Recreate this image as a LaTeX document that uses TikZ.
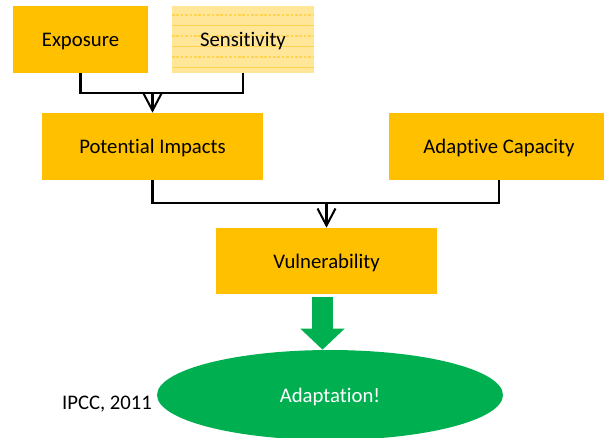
\documentclass[tikz,border=0pt]{standalone}
\usepackage{fontspec}
\setmainfont{Carlito}[Ligatures=NoCommon]
\usetikzlibrary{arrows.meta,shapes.geometric}
\definecolor{boxorange}{HTML}{FFC000}
\definecolor{boxlight}{HTML}{FFE699}
\definecolor{boxline}{HTML}{FFD34F}
\definecolor{adaptgreen}{HTML}{00B050}

\begin{document}
\begin{tikzpicture}[x=0.02cm,y=-0.02cm,
  font=\fontsize{11.8}{14}\selectfont,
  box/.style={fill=boxorange,minimum width=4.42cm,minimum height=1.34cm,inner sep=0pt,
    text height=0.9em,text depth=0.1em},
  link/.style={line width=1.15pt},
  barb/.style={-{Straight Barb[length=0.34cm,width=0.36cm]}},
  fat/.style={adaptgreen,line width=0.42cm,-{Triangle[length=0.42cm,width=0.86cm]}}]
  \clip (0,0) rectangle (604,437);
  \node[box,minimum width=2.7cm] (expo) at (80.5,39.5) {Exposure};
  \node[box,fill=boxlight,minimum width=2.84cm,
    path picture={
      \foreach \i in {0,2,4}
        \draw[boxline,line width=0.6pt,dash pattern=on 1.5pt off 1pt]
          (path picture bounding box.north west) ++(0,9+10.5*\i) -- ++(200,0);
      \foreach \i in {1,3,5}
        \draw[boxline,line width=0.6pt]
          (path picture bounding box.north west) ++(0,9+10.5*\i) -- ++(200,0);
    }] (sens) at (243,39.5) {Sensitivity};
  \node[box] (pot) at (152.5,146.5) {Potential Impacts};
  \node[box] (adap) at (499,146.5) {Adaptive Capacity};
  \node[box,minimum height=1.32cm] (vul) at (326.5,261) {Vulnerability};
  \node[ellipse,fill=adaptgreen,text=white,minimum width=6.92cm,minimum height=1.8cm,
    inner sep=0pt,text height=0.9em,text depth=0.1em] (adapt) at (330,395) {Adaptation!};
  \node (src) at (107,404) {IPCC, 2011};

  \draw[link] (expo.south) -- ++(0,20) -| (sens.south);
  \draw[link,barb] (pot.north) ++(0,-20) -- (pot.north);
  \draw[link] (pot.south) -- ++(0,23) -| (adap.south);
  \draw[link,barb] (vul.north) ++(0,-25) -- (vul.north);
  \draw[fat] (vul.south) ++(-4,3) -- (adapt.north -| 322.5,0);
\end{tikzpicture}
\end{document}
